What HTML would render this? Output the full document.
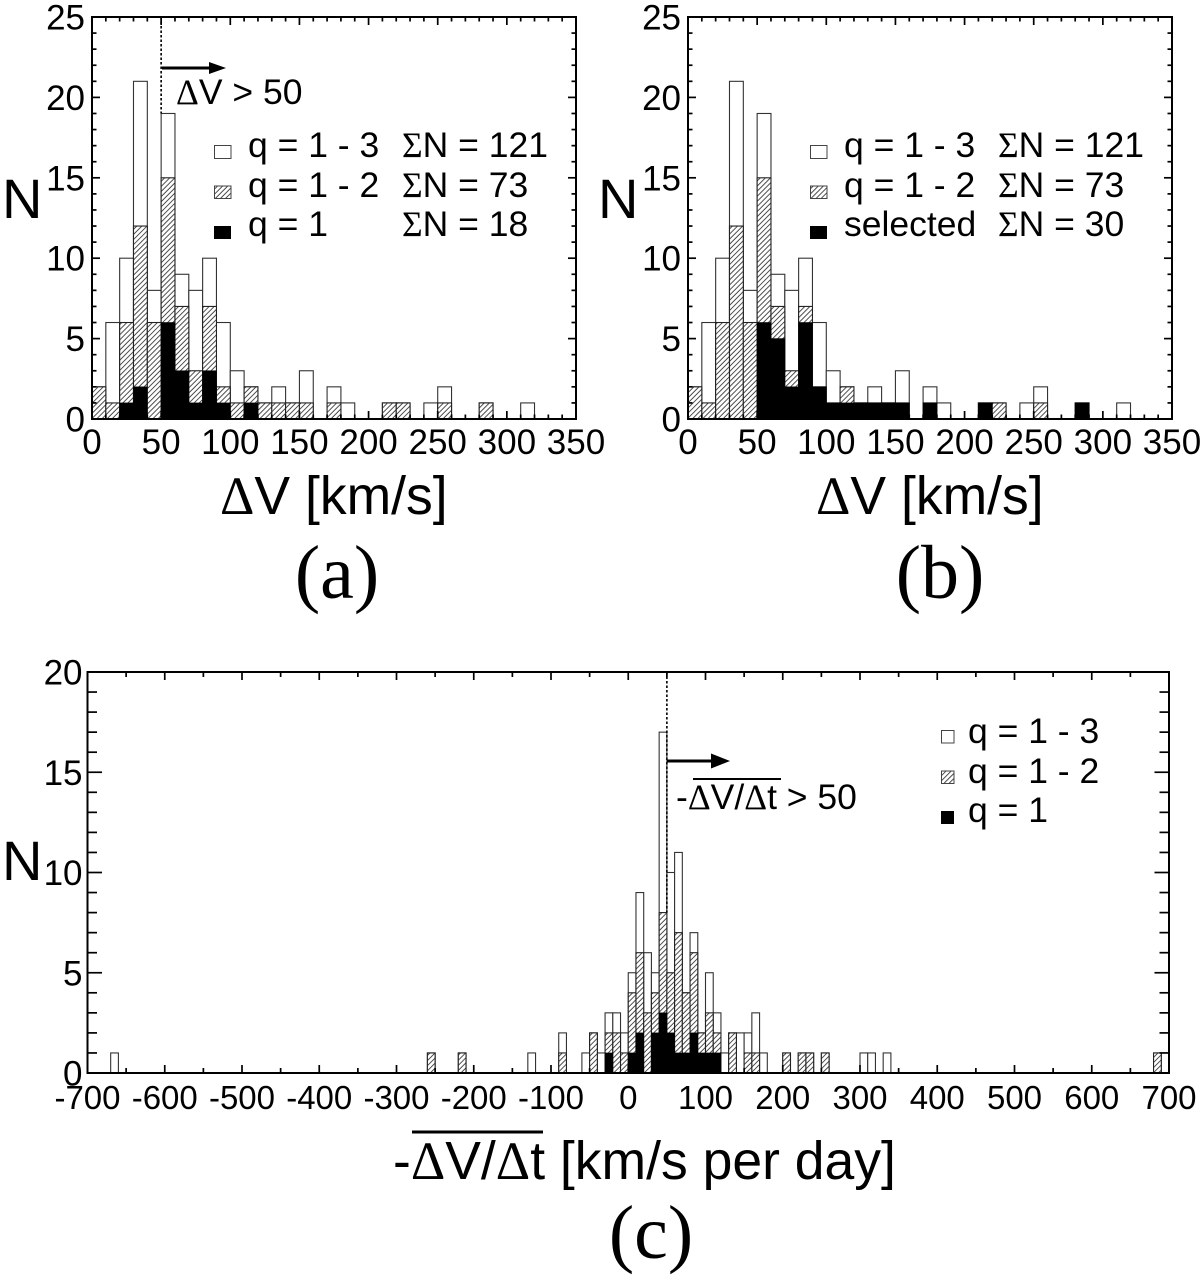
<!DOCTYPE html>
<html lang="en">
<head>
<meta charset="utf-8">
<title>Histograms of velocity differences</title>
<style>
html,body{margin:0;padding:0;background:#fff;width:1200px;height:1277px;overflow:hidden}
svg{display:block}
text{font-family:"Liberation Sans",sans-serif;fill:#000}
.sym{font-family:"Liberation Serif",serif}
.cap{font-family:"Liberation Serif",serif;font-size:76px}
</style>
</head>
<body>
<svg id="chart" xmlns="http://www.w3.org/2000/svg" width="1200" height="1277" viewBox="0 0 1200 1277">
  <defs>
    <pattern id="hatch" patternUnits="userSpaceOnUse" width="3.6" height="3.6" patternTransform="rotate(45)">
      <rect width="3.6" height="3.6" fill="#fff"/>
      <line x1="1" y1="0" x2="1" y2="3.6" stroke="#222" stroke-width="0.8"/>
    </pattern>
  </defs>
  <rect width="1200" height="1277" fill="#fff"/>
  <g id="marks"></g>

  <!-- panel a annotations -->
  <g>
    <path d="M162 66.5H209V62L226 68L209 74V69.5H162Z" fill="#000"/>
    <text x="176" y="104" font-size="35.5"><tspan class="sym">Δ</tspan>V &gt; 50</text>
    <rect x="214.5" y="145.5" width="16.5" height="13" fill="#fff" stroke="#444" stroke-width="1"/>
    <rect x="214.5" y="186" width="16.5" height="12.5" fill="url(#hatch)" stroke="#444" stroke-width="1"/>
    <rect x="214" y="226" width="17" height="13" fill="#000"/>
    <text x="248" y="157" font-size="35.5">q = 1 - 3</text>
    <text x="248" y="197" font-size="35.5">q = 1 - 2</text>
    <text x="248" y="236" font-size="35.5">q = 1</text>
    <text x="402" y="157" font-size="35.5"><tspan class="sym">Σ</tspan>N = 121</text>
    <text x="402" y="197" font-size="35.5"><tspan class="sym">Σ</tspan>N = 73</text>
    <text x="402" y="236" font-size="35.5"><tspan class="sym">Σ</tspan>N = 18</text>
    <text x="2" y="218" font-size="56">N</text>
    <text x="220" y="514" font-size="53.5"><tspan class="sym">Δ</tspan>V [km/s]</text>
    <text class="cap" x="337" y="598" text-anchor="middle">(a)</text>
  </g>

  <!-- panel b annotations -->
  <g>
    <rect x="810.5" y="145.5" width="16.5" height="13" fill="#fff" stroke="#444" stroke-width="1"/>
    <rect x="810.5" y="186" width="16.5" height="12.5" fill="url(#hatch)" stroke="#444" stroke-width="1"/>
    <rect x="810" y="226" width="17" height="13" fill="#000"/>
    <text x="844" y="157" font-size="35.5">q = 1 - 3</text>
    <text x="844" y="197" font-size="35.5">q = 1 - 2</text>
    <text x="844" y="236" font-size="35.5">selected</text>
    <text x="998" y="157" font-size="35.5"><tspan class="sym">Σ</tspan>N = 121</text>
    <text x="998" y="197" font-size="35.5"><tspan class="sym">Σ</tspan>N = 73</text>
    <text x="998" y="236" font-size="35.5"><tspan class="sym">Σ</tspan>N = 30</text>
    <text x="598" y="218" font-size="56">N</text>
    <text x="816" y="514" font-size="53.5"><tspan class="sym">Δ</tspan>V [km/s]</text>
    <text class="cap" x="940" y="598" text-anchor="middle">(b)</text>
  </g>

  <!-- panel c annotations -->
  <g>
    <path d="M667 759.5H711V753.5L730 761L711 768.5V762.5H667Z" fill="#000"/>
    <text x="676" y="809" font-size="35.5">-<tspan class="sym">Δ</tspan>V/<tspan class="sym">Δ</tspan>t &gt; 50</text>
    <line x1="693" y1="779" x2="781" y2="779" stroke="#000" stroke-width="2"/>
    <rect x="941.5" y="730.5" width="12.5" height="12.5" fill="#fff" stroke="#444" stroke-width="1"/>
    <rect x="941.5" y="771" width="12.5" height="12.5" fill="url(#hatch)" stroke="#444" stroke-width="1"/>
    <rect x="941" y="811" width="13" height="13" fill="#000"/>
    <text x="968" y="743" font-size="35.5">q = 1 - 3</text>
    <text x="968" y="783" font-size="35.5">q = 1 - 2</text>
    <text x="968" y="822" font-size="35.5">q = 1</text>
    <text x="2" y="880" font-size="56">N</text>
    <text x="393" y="1179" font-size="53.5">-<tspan class="sym">Δ</tspan>V/<tspan class="sym">Δ</tspan>t [km/s per day]</text>
    <line x1="412" y1="1132" x2="543" y2="1132" stroke="#000" stroke-width="3"/>
    <text class="cap" x="651" y="1258" text-anchor="middle">(c)</text>
  </g>
</svg>
<script>
// Histogram counts for panels a and b: one entry per 10 km/s bin starting at 0
const velocityBinWidth = 10;
const aTotal    = [2,6,10,21,8,19,9,8,10,6,3,2,1,2,1,3,0,2,1,0,0,1,1,0,1,2,0,0,1,0,0,1];
const aHatched  = [2,1,6,12,6,15,7,3,7,2,1,2,1,1,1,1,0,1,0,0,0,1,1,0,0,1,0,0,1,0,0,0];
const aBest     = [0,0,1,2,0,6,3,1,3,1,0,1,0,0,0,0,0,0,0,0,0,0,0,0,0,0,0,0,0,0,0,0];
const bSelected = [0,0,0,0,0,6,5,2,6,2,1,1,1,1,1,1,0,1,0,0,0,1,0,0,0,0,0,0,1,0,0,0];

// Histogram counts for panel c: bin starts in km/s per day, 10 wide
const rateBinWidth = 10;
const cBinStarts = [-670,-260,-220,-130,-90,-60,-50,-40,-30,-20,-10,0,10,20,30,40,50,60,70,80,90,100,110,120,130,140,150,160,170,200,220,230,250,300,310,330,680,690];
const cTotal     = [1,1,1,1,2,1,2,1,3,3,2,5,9,6,5,17,10,11,4,7,2,5,3,1,2,2,2,3,1,1,1,1,1,1,1,1,1,1];
const cHatched   = [0,1,1,0,1,0,2,0,2,2,1,4,6,3,4,8,5,7,4,6,2,3,2,0,2,0,1,1,0,1,1,1,1,0,0,0,1,0];
const cBest      = [0,0,0,0,0,0,0,0,1,0,0,1,2,0,2,3,2,1,1,2,1,1,1,0,0,0,0,0,0,0,0,0,0,0,0,0,0,0];

// Tick labels
const velocityTicks = [0,50,100,150,200,250,300,350];
const velocityCountTicks = [0,5,10,15,20,25];
const rateTicks = [-700,-600,-500,-400,-300,-200,-100,0,100,200,300,400,500,600,700];
const rateCountTicks = [0,5,10,15,20];

const NS = 'http://www.w3.org/2000/svg';
const root = document.getElementById('marks');

function el(tag, attrs, parent) {
  const e = document.createElementNS(NS, tag);
  for (const k in attrs) e.setAttribute(k, attrs[k]);
  parent.appendChild(e);
  return e;
}

function drawBar(group, scaleX, scaleY, start, width, count, kind, panel) {
  if (count <= 0) return;
  const x0 = scaleX(start), x1 = scaleX(start + width), y = scaleY(count), y0 = scaleY(0);
  let paint;
  if (kind === 'total') paint = {fill:'#fff', stroke:'#333', 'stroke-width':1.1};
  else if (kind === 'hatched') paint = {fill:'url(#hatch)', stroke:'#222', 'stroke-width':1.1};
  else paint = {fill:'#000', stroke:'#000', 'stroke-width':0.6};
  const r = el('rect', Object.assign({x:x0, y:y, width:x1 - x0, height:y0 - y}, paint), group);
  
  
}

function drawPanel(p) {
  const g = el('g', {}, root);
  
  

  const scaleX = v => p.left + (v - p.xMin) / (p.xMax - p.xMin) * (p.right - p.left);
  const scaleY = v => p.bottom - (v - 0) / p.yMax * (p.bottom - p.top);

  const bars = el('g', {}, g);
  
  
  p.starts.forEach((s, i) => drawBar(bars, scaleX, scaleY, s, p.binWidth, p.total[i], 'total', p.id));
  p.starts.forEach((s, i) => drawBar(bars, scaleX, scaleY, s, p.binWidth, p.hatched[i], 'hatched', p.id));
  p.starts.forEach((s, i) => drawBar(bars, scaleX, scaleY, s, p.binWidth, p.best[i], 'black', p.id));

  if (p.threshold !== undefined) {
    const t = el('line', {x1:scaleX(p.threshold), x2:scaleX(p.threshold), y1:p.top, y2:scaleY(p.thresholdEnd), stroke:'#000', 'stroke-width':1.6, 'stroke-dasharray':'2.5 2'}, g);
    
    
  }

  const frame = el('rect', {x:p.left, y:p.top, width:p.right - p.left, height:p.bottom - p.top, fill:'none', stroke:'#000', 'stroke-width':2}, g);
  
  

  const ticks = el('g', {stroke:'#000', 'stroke-width':1.7}, g);
  
  
  for (let v = p.xMin; v <= p.xMax + 1e-6; v += p.xMinor) {
    const major = Math.abs((v - p.xMin) % p.xMajor) < 1e-6;
    const len = major ? p.xMajorLen : p.xMinorLen;
    el('line', {x1:scaleX(v), x2:scaleX(v), y1:p.bottom, y2:p.bottom - len}, ticks);
    el('line', {x1:scaleX(v), x2:scaleX(v), y1:p.top, y2:p.top + len}, ticks);
  }
  for (let v = 0; v <= p.yMax; v += 1) {
    const major = v % 5 === 0;
    const len = major ? p.yMajorLen : p.yMinorLen;
    el('line', {x1:p.left, x2:p.left + len, y1:scaleY(v), y2:scaleY(v)}, ticks);
    el('line', {x1:p.right, x2:p.right - len, y1:scaleY(v), y2:scaleY(v)}, ticks);
  }

  p.xTicks.forEach(v => {
    const t = el('text', {x:scaleX(v), y:p.xLabelY, 'text-anchor':'middle', 'font-size':p.xFont}, g);
    t.textContent = String(v);
    
    
  });
  p.yTicks.forEach(v => {
    const t = el('text', {x:p.left - p.yLabelGap, y:scaleY(v) + 12.5, 'text-anchor':'end', 'font-size':35}, g);
    t.textContent = String(v);
    
    
  });
}

const velocityStarts = aTotal.map((_, i) => i * velocityBinWidth);
const velocityLayout = {xMin:0, xMax:350, yMax:25, top:17, bottom:419, binWidth:velocityBinWidth, xMinor:10, xMajor:50,
  xMajorLen:8, xMinorLen:4.5, yMajorLen:8, yMinorLen:4.5, xTicks:velocityTicks, yTicks:velocityCountTicks, xLabelY:454, xFont:35, yLabelGap:7, starts:velocityStarts, total:aTotal, hatched:aHatched};

drawPanel(Object.assign({}, velocityLayout, {id:'a', left:92, right:576, best:aBest, threshold:50, thresholdEnd:19}));
drawPanel(Object.assign({}, velocityLayout, {id:'b', left:688, right:1172, best:bSelected}));
drawPanel({id:'c', left:87.5, right:1169, top:672, bottom:1073, xMin:-700, xMax:700, yMax:20, binWidth:rateBinWidth, xMinor:50, xMajor:100,
  xMajorLen:8, xMinorLen:5, yMajorLen:14.5, yMinorLen:9.5, xTicks:rateTicks, yTicks:rateCountTicks, xLabelY:1109, xFont:33, yLabelGap:5,
  starts:cBinStarts, total:cTotal, hatched:cHatched, best:cBest, threshold:50, thresholdEnd:8});
</script>
</body>
</html>
